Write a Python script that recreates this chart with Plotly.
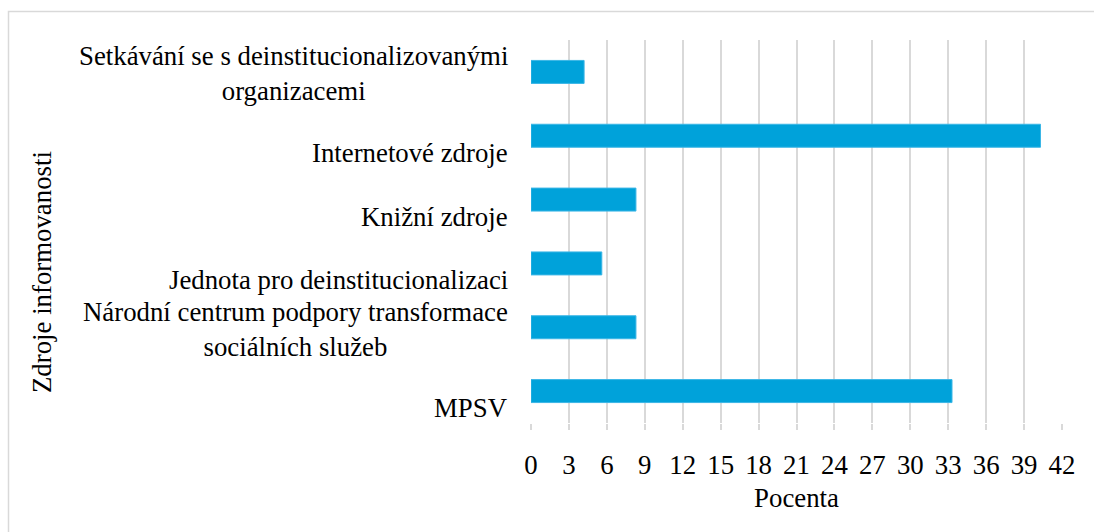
import plotly.graph_objects as go

categories = [
    "MPSV",
    "Národní centrum podpory transformace<br>sociálních služeb",
    "Jednota pro deinstitucionalizaci",
    "Knižní zdroje",
    "Internetové zdroje",
    "Setkávání se s deinstitucionalizovanými<br>organizacemi",
]
values = [33.3, 8.3, 5.6, 8.3, 40.3, 4.2]
x_ticks = list(range(0, 43, 3))

FONT = "Liberation Serif, Times New Roman, serif"
GRID = "#d9d9d9"
FS = 26.8

W, H = 1094, 532
L, R, T, B = 531, 32, 40, 109
PW, PH = W - L - R, H - T - B

fig = go.Figure()
fig.add_trace(go.Bar(
    y=list(range(len(categories))),
    x=values,
    orientation="h",
    marker=dict(color="#00A2DA", line=dict(color="#3bb6e6", width=1)),
    hoverinfo="x",
))

annotations = []
for i, cat in enumerate(categories):
    two_lines = "<br>" in cat
    annotations.append(dict(
        x=0, xref="paper", y=i, yref="y",
        text=cat, showarrow=False, xanchor="right", yanchor="middle",
        align="center", xshift=-21, yshift=-2 if two_lines else -17,
        font=dict(family=FONT, size=FS, color="#000000"),
    ))
annotations.append(dict(
    x=(42 - L) / PW, xref="paper", y=(H - B - 272) / PH, yref="paper",
    text="Zdroje informovanosti", textangle=-90, showarrow=False,
    xanchor="center", yanchor="middle",
    font=dict(family=FONT, size=FS, color="#000000"),
))

fig.update_layout(
    width=W, height=H,
    margin=dict(l=L, r=R, t=T, b=B),
    paper_bgcolor="white", plot_bgcolor="white",
    showlegend=False,
    bargap=0.64,
    annotations=annotations,
    font=dict(family=FONT, size=FS, color="#000000"),
    xaxis=dict(
        range=[0, 42], tickvals=x_ticks, ticktext=[str(t) for t in x_ticks],
        showgrid=True, gridcolor=GRID, gridwidth=2, zeroline=False,
        showline=False, ticks="outside", ticklen=6, tickcolor=GRID, tickwidth=2,
        ticklabelstandoff=12,
        tickfont=dict(family=FONT, size=FS, color="#000000"),
        title=dict(text="Pocenta", standoff=9,
                   font=dict(family=FONT, size=FS, color="#000000")),
        fixedrange=True,
    ),
    yaxis=dict(
        range=[-0.5, len(categories) - 0.5], showticklabels=False,
        showgrid=False, zeroline=False, showline=False, fixedrange=True,
    ),
    shapes=[dict(
        type="rect", xref="paper", yref="paper",
        x0=(8.5 - L) / PW, x1=(W + 40 - L) / PW,
        y0=(H - B - H - 40) / PH, y1=(H - B - 11.5) / PH,
        line=dict(color=GRID, width=1.5), fillcolor="rgba(0,0,0,0)", layer="below",
    )],
)

fig.write_html(
    "out.html",
    config={"displayModeBar": False},
    post_script="document.body.style.margin='0';document.body.style.overflow='hidden';",
)
